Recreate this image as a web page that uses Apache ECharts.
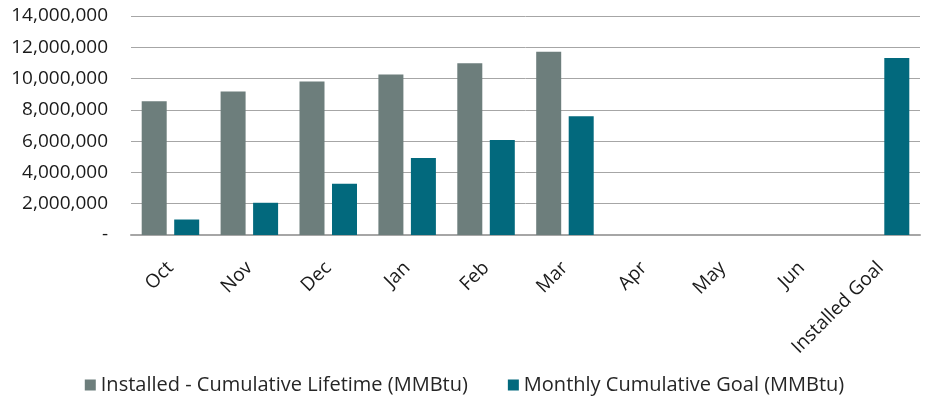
<!DOCTYPE html>
<html>
<head>
<meta charset="utf-8">
<script src="https://cdn.jsdelivr.net/npm/echarts@6/dist/echarts.min.js"></script>
<style>
  html, body { margin: 0; padding: 0; background: #ffffff; }
  #chart { width: 929px; height: 401px; }
</style>
</head>
<body>
<div id="chart"></div>
<script>
const categories = ['Oct', 'Nov', 'Dec', 'Jan', 'Feb', 'Mar', 'Apr', 'May', 'Jun', 'Installed Goal'];
const installedLifetime = [8550000, 9170000, 9810000, 10260000, 10980000, 11710000, null, null, null, null];
const monthlyGoal = [990000, 2060000, 3270000, 4930000, 6080000, 7590000, null, null, null, 11320000];
const seriesNames = ['Installed - Cumulative Lifetime (MMBtu)', 'Monthly Cumulative Goal (MMBtu)'];

const fontFamily = '"Open Sans", "Liberation Sans", sans-serif';

const chart = echarts.init(document.getElementById('chart'));

const option = {
  animation: false,
  grid: {
    left: 131,
    right: 9,
    top: 16,
    bottom: 166
  },
  legend: {
    bottom: 1,
    left: 'center',
    itemWidth: 11,
    itemHeight: 11,
    itemGap: 40,
    icon: 'rect',
    textStyle: {
      color: '#262626',
      fontSize: 20,
      fontFamily: fontFamily
    },
    data: seriesNames
  },
  xAxis: {
    type: 'category',
    data: categories,
    axisLine: {
      lineStyle: { color: '#a6a6a6', width: 2 }
    },
    axisTick: { show: false },
    axisLabel: {
      rotate: 45,
      interval: 0,
      margin: 30,
      color: '#1a1a1a',
      fontSize: 19,
      fontFamily: fontFamily
    }
  },
  yAxis: {
    type: 'value',
    min: 0,
    max: 14000000,
    interval: 2000000,
    axisLine: { show: false },
    axisTick: { show: false },
    axisLabel: {
      margin: 23,
      color: '#1a1a1a',
      fontSize: 19,
      fontFamily: fontFamily,
      formatter: function (v) {
        return v === 0 ? '-' : v.toLocaleString('en-US');
      }
    },
    splitLine: {
      lineStyle: { color: '#a6a6a6', width: 1 }
    }
  },
  series: [
    {
      name: seriesNames[0],
      type: 'bar',
      data: installedLifetime,
      barWidth: 25,
      barGap: '30%',
      itemStyle: { color: '#6d7e7c' }
    },
    {
      name: seriesNames[1],
      type: 'bar',
      data: monthlyGoal,
      barWidth: 25,
      itemStyle: { color: '#02697d' }
    }
  ]
};

chart.setOption(option);
</script>
</body>
</html>
